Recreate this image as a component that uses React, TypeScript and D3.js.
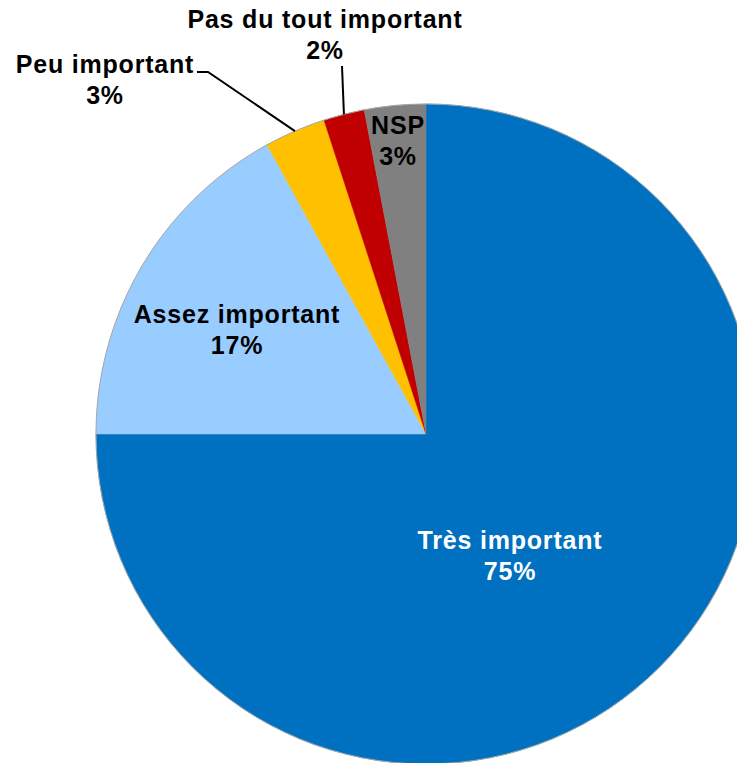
import React from "react";
import * as d3 from "d3";

const categories = ["Très important", "Assez important", "Peu important", "Pas du tout important", "NSP"];
const values = [75, 17, 3, 2, 3];
const colors = ["#0070C0", "#99CCFF", "#FFC000", "#C00000", "#808080"];
const valueLabels = ["75%", "17%", "3%", "2%", "3%"];

const W = 737;
const H = 763;
const cx = 426;
const cy = 434;
const R = 330;

type Lab = { x: number; y: number; fill: string; leader?: [number, number][] };

export default function App() {
  const pie = d3.pie<number>().sort(null).startAngle(0).endAngle(2 * Math.PI);
  const arcs = pie(values);
  const arcGen = d3.arc<d3.PieArcDatum<number>>().innerRadius(0).outerRadius(R);

  const edge = (i: number, r: number) => {
    const a = (arcs[i].startAngle + arcs[i].endAngle) / 2;
    return [cx + r * Math.sin(a), cy - r * Math.cos(a)] as [number, number];
  };

  const labels: Lab[] = [
    { x: 510, y: 549, fill: "#ffffff" },
    { x: 237, y: 323, fill: "#000000" },
    { x: 105, y: 73, fill: "#000000", leader: [[197, 72], [208, 72], edge(2, R)] },
    { x: 325, y: 28, fill: "#000000", leader: [[342, 66], edge(3, R)] },
    { x: 398, y: 134, fill: "#000000" },
  ];

  const line = d3.line();

  return (
    <svg width={W} height={H} style={{ position: "absolute", left: 0, top: 0, background: "#fff" }}>
      <g transform={`translate(${cx},${cy})`}>
        {arcs.map((a, i) => (
          <path key={i} d={arcGen(a) || ""} fill={colors[i]} stroke={colors[i]} strokeWidth={0.5} />
        ))}
        <circle r={R} fill="none" stroke="#a6a6a6" strokeWidth={1} />
      </g>
      {labels.map((l, i) =>
        l.leader ? (
          <path key={"l" + i} d={line(l.leader) || ""} fill="none" stroke="#000" strokeWidth={2} />
        ) : null
      )}
      {labels.map((l, i) => (
        <text
          key={"t" + i}
          x={l.x}
          y={l.y}
          textAnchor="middle"
          fill={l.fill}
          style={{ fontFamily: "'Liberation Sans', Arial, sans-serif", fontWeight: "bold", fontSize: 25, letterSpacing: 0.8 }}
        >
          <tspan x={l.x}>{categories[i]}</tspan>
          <tspan x={l.x} dy={31}>{valueLabels[i]}</tspan>
        </text>
      ))}
    </svg>
  );
}
